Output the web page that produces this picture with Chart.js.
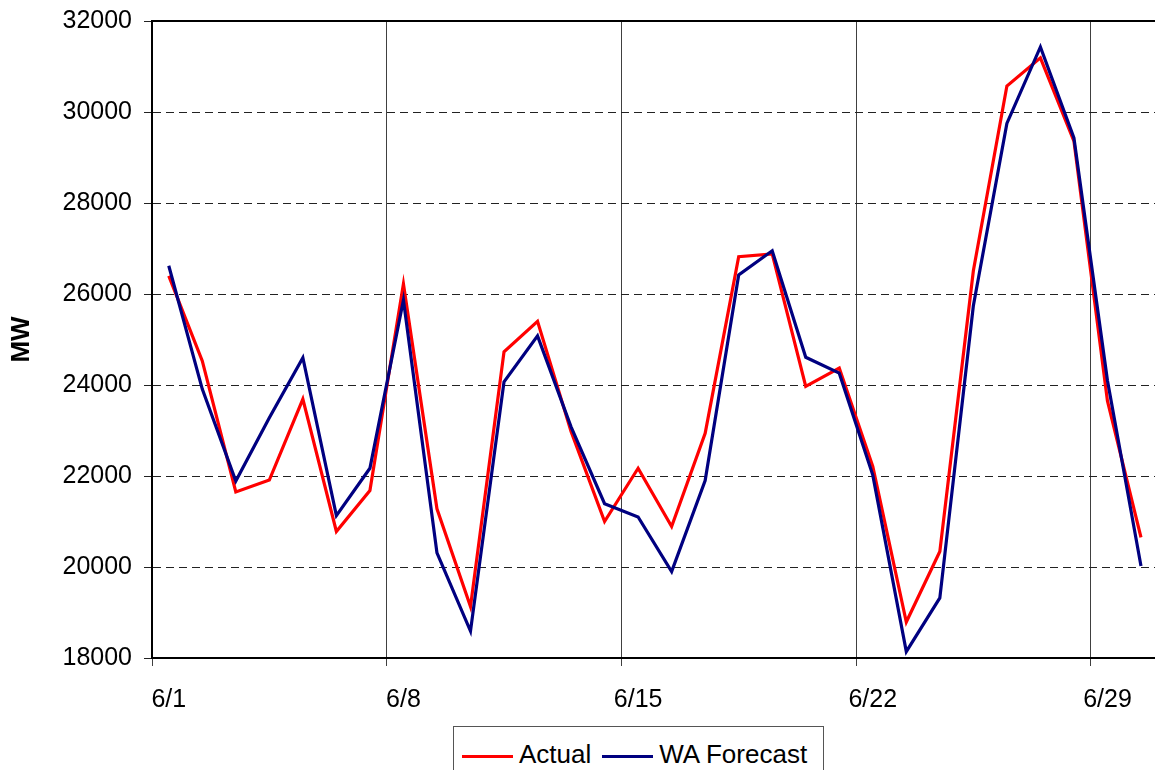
<!DOCTYPE html>
<html>
<head>
<meta charset="utf-8">
<script src="https://cdn.jsdelivr.net/npm/chart.js@4.4.1/dist/chart.umd.min.js"></script>
<style>
    body { margin: 0; overflow: hidden; background: #fff; }
    #caixa { position: relative; width: 1160px; height: 780px; }
    #legenda {
        position: absolute; left: 453px; top: 726px; width: 371px; height: 50px;
        border: 1px solid #555; background: #fff;
        display: flex; align-items: center; padding: 5px 0 0 8px; box-sizing: border-box;
        font-family: "Liberation Sans", Arial, sans-serif; font-size: 26px; color: #000;
    }
    .item { display: flex; align-items: center; margin-right: 11px; line-height: 30px; }
    .linha { display: inline-block; width: 51px; height: 3px; margin-right: 6px; position: relative; top: 3px; }
</style>
</head>
<body>
<div id="caixa">
    <canvas id="grafico" width="1160" height="780"></canvas>
    <div id="legenda"></div>
</div>
<script>
// Dias do mês (categorias do eixo X)
const dias = ['6/1', '6/2', '6/3', '6/4', '6/5', '6/6', '6/7', '6/8', '6/9', '6/10',
    '6/11', '6/12', '6/13', '6/14', '6/15', '6/16', '6/17', '6/18', '6/19', '6/20',
    '6/21', '6/22', '6/23', '6/24', '6/25', '6/26', '6/27', '6/28', '6/29', '6/30'];

// Carga real (MW)
const cargaReal = [26400, 24530, 21650, 21910, 23690, 20780, 21680, 26220, 21280, 19130,
    24730, 25400, 22980, 21000, 22170, 20890, 22940, 26820, 26880, 23970,
    24370, 22210, 18790, 20340, 26510, 30570, 31190, 29360, 23650, 20650];

// Previsão WA (MW)
const previsaoWA = [26620, 23910, 21890, 23280, 24600, 21130, 22170, 25870, 20310, 18590,
    24070, 25080, 23080, 21390, 21100, 19900, 21900, 26420, 26950, 24610,
    24260, 22020, 18140, 19320, 25740, 29750, 31430, 29430, 24100, 20020];

const nomesSeries = ['Actual', 'WA Forecast'];
const coresSeries = ['#ff0000', '#000080'];

const limitesY = { min: 18000, max: 32000, passo: 2000 };

const fonte = "'Liberation Sans', Arial, sans-serif";

// Linha sólida no topo da área do gráfico
const bordaTopo = {
    id: 'bordaTopo',
    beforeDatasetsDraw(chart) {
        const { ctx, chartArea } = chart;
        ctx.save();
        ctx.strokeStyle = '#000';
        ctx.lineWidth = 2;
        ctx.beginPath();
        ctx.moveTo(chartArea.left, chartArea.top);
        ctx.lineTo(chartArea.right, chartArea.top);
        ctx.stroke();
        ctx.restore();
    }
};

const ctx = document.getElementById('grafico').getContext('2d');

const grafico = new Chart(ctx, {
    type: 'line',
    data: {
        labels: dias,
        datasets: [
            {
                label: nomesSeries[0],
                data: cargaReal,
                borderColor: coresSeries[0],
                backgroundColor: coresSeries[0],
                borderWidth: 3.2,
                pointRadius: 0,
                tension: 0,
                order: 2
            },
            {
                label: nomesSeries[1],
                data: previsaoWA,
                borderColor: coresSeries[1],
                backgroundColor: coresSeries[1],
                borderWidth: 3.2,
                pointRadius: 0,
                tension: 0,
                order: 1
            }
        ]
    },
    options: {
        responsive: false,
        animation: false,
        layout: { padding: { top: 21, left: 0, right: 1, bottom: 0 } },
        scales: {
            x: {
                offset: true,
                grid: {
                    offset: true,
                    color: (c) => (c.index % 7 === 0 ? '#404040' : 'transparent'),
                    tickColor: (c) => (c.index % 7 === 0 ? '#404040' : 'transparent'),
                    tickLength: 8,
                    lineWidth: 1
                },
                border: { color: '#000', width: 2 },
                ticks: {
                    autoSkip: false,
                    maxRotation: 0,
                    minRotation: 0,
                    padding: 19,
                    color: '#000',
                    font: { family: fonte, size: 25 },
                    callback: function(valor, indice) {
                        return indice % 7 === 0 ? this.getLabelForValue(valor) : '';
                    }
                },
                afterFit: (escala) => { escala.height = 122; }
            },
            y: {
                min: limitesY.min,
                max: limitesY.max,
                grid: {
                    color: '#222',
                    lineWidth: 1,
                    tickColor: '#222',
                    tickLength: 8
                },
                border: { color: '#000', width: 2, dash: [8, 5] },
                ticks: {
                    stepSize: limitesY.passo,
                    padding: 12,
                    color: '#000',
                    font: { family: fonte, size: 25 },
                    callback: (valor) => String(valor)
                },
                title: {
                    display: true,
                    text: 'MW',
                    color: '#000',
                    font: { family: fonte, size: 26, weight: 'bold' },
                    padding: { top: 6, bottom: 0 }
                },
                afterFit: (escala) => {
                    escala.width = 152;
                    // a margem do topo fica a cargo do layout
                    escala.paddingTop = 0;
                    escala.paddingBottom = 0;
                }
            }
        },
        plugins: {
            legend: { display: false },
            tooltip: { enabled: false }
        }
    },
    plugins: [bordaTopo]
});

// Legenda em HTML, montada a partir dos datasets
const legenda = document.getElementById('legenda');
grafico.data.datasets.forEach((ds) => {
    const item = document.createElement('span');
    item.className = 'item';
    const linha = document.createElement('span');
    linha.className = 'linha';
    linha.style.background = ds.borderColor;
    item.appendChild(linha);
    item.appendChild(document.createTextNode(ds.label));
    legenda.appendChild(item);
});
</script>
</body>
</html>
